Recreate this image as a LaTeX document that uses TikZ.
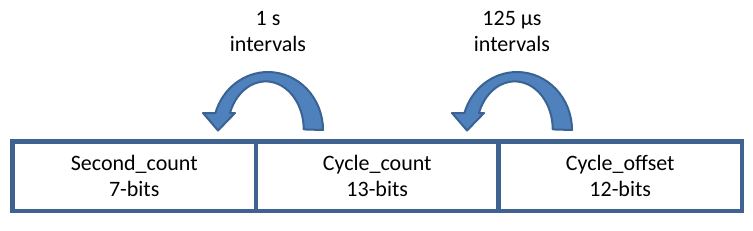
\documentclass[tikz,border=0pt]{standalone}
\usepackage{fontspec}
\setmainfont{Carlito}
\definecolor{fieldblue}{HTML}{3F6290}
\definecolor{arrowfill}{HTML}{4F81BD}
\definecolor{arrowline}{HTML}{3A6293}
\tikzset{
  field/.style={draw=fieldblue, line width=3.4pt, minimum height=52.1pt,
    inner sep=0pt, align=center, font=\fontsize{16.5}{19.5}\selectfont},
  note/.style={align=center, font=\fontsize{16.5}{19.5}\selectfont},
  bendarrow/.style={fill=arrowfill, draw=arrowline, line width=1.5pt, line join=round}
}
\begin{document}
\begin{tikzpicture}[x=0.75pt,y=-0.75pt]
    \useasboundingbox (0,0) rectangle (753,230);
    % Interval labels
    \node[note] (onesec) at (268,31) {1 s\\intervals};
    \node[note] (usec) at (512,31) {125 µs\\intervals};
    % Curved arrows
    \foreach \dx in {0,249} {
        \filldraw[bendarrow] (\dx+323,130)
            arc[start angle=0, end angle=-163, x radius=55, y radius=58]
            -- (\dx+203,113) -- (\dx+218,130.5) -- (\dx+235,113) -- (\dx+230,113)
            arc[start angle=-160, end angle=0, x radius=38, y radius=48]
            -- cycle;
    }
    % Fields
    \node[field, minimum width=182.6pt] (seccnt) at (134.25,176.25) {Second\_count\\7-bits};
    \node[field, minimum width=181.9pt] (cyccnt) at (377.25,176.25) {Cycle\_count\\13-bits};
    \node[field, minimum width=182.6pt] (cycoff) at (620.25,176.25) {Cycle\_offset\\12-bits};
\end{tikzpicture}
\end{document}
